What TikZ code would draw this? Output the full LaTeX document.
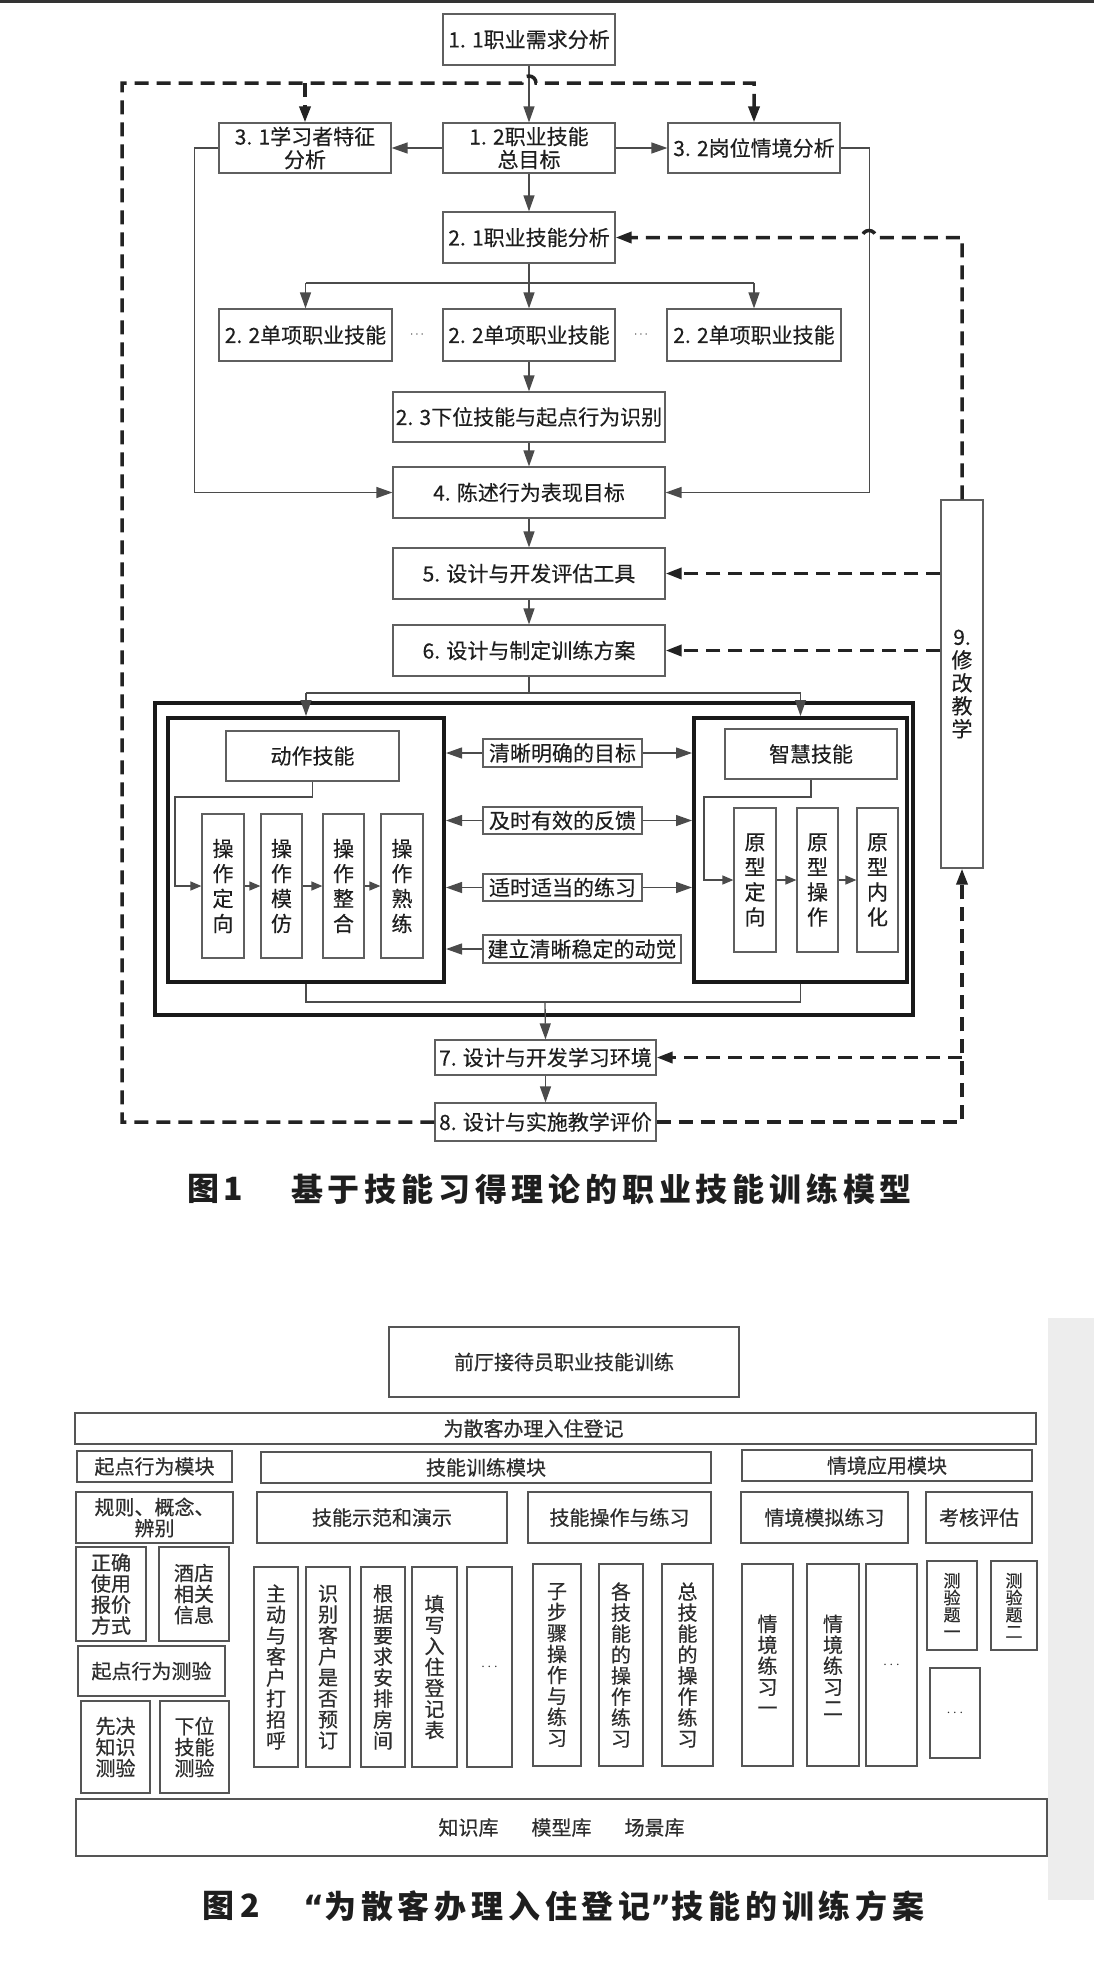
\documentclass[tikz,border=0pt]{standalone}
\usepackage{fontspec}
\setmainfont{Noto Sans CJK SC}
\newfontfamily\fonea[FakeBold=0.3]{Noto Sans CJK SC}
\newfontfamily\fontb[FakeBold=0.5]{Noto Sans CJK SC}
\newfontfamily\capfont[LetterSpace=15]{Noto Sans CJK SC}
\newfontfamily\qfont{DejaVu Sans}
\usetikzlibrary{arrows.meta}
\definecolor{boxc}{RGB}{95,95,95}
\definecolor{boxc2}{RGB}{85,85,85}
\definecolor{txtc}{RGB}{30,30,30}
\definecolor{txtc2}{RGB}{45,45,45}
\definecolor{linec}{RGB}{75,75,75}
\definecolor{dashc}{RGB}{35,35,35}
\definecolor{frc}{RGB}{25,25,25}
\definecolor{capc}{RGB}{30,30,30}
\newcommand\fsa{\fonea\fontsize{21}{23}\selectfont}
\newcommand\fsb{\fontb\fontsize{20}{21}\selectfont}
\newcommand\mybox[6][]{\node[bx,#1,minimum width={#4-#2},minimum height={#5-#3}] (#6) at ({(#2+#4)/2},{(#3+#5)/2})}
\tikzset{
  bx/.style={draw=boxc,line width=1.2pt,inner sep=0pt,text=txtc,font=\fsa,align=center},
  vt/.style={font=\fonea\fontsize{21}{25}\selectfont},
  bx2/.style={draw=boxc2,line width=1.4pt,text=txtc2,font=\fsb},
  vt2/.style={font=\fontb\fontsize{20}{21}\selectfont},
  frm/.style={draw=frc,line width=4pt},
  ln/.style={draw=linec,line width=1.3pt},
  dsh/.style={draw=dashc,line width=3.5pt,dash pattern=on 14pt off 8pt},
  arr/.tip={Triangle[length=16pt,width=11pt]},
  sarr/.tip={Triangle[length=11pt,width=9pt]},
  captx/.style={font=\capfont\fontsize{32}{34}\selectfont\bfseries,text=capc,inner sep=0pt}
}
\begin{document}
\begin{tikzpicture}[x=1pt,y=-1pt]
\useasboundingbox (0,0) rectangle (1094,1971);
\fill[white] (0,0) rectangle (1094,1971);
\fill[black!80] (0,0) rectangle (1094,3);
\fill[black!7] (1048,1318) rectangle (1094,1900);

% ---------------- Figure 1 ----------------
\mybox{443}{14}{615}{65}{a11} {1. 1职业需求分析};
\mybox{219}{123}{391}{173}{a31} {3. 1学习者特征\\分析};
\mybox{443}{123}{615}{173}{a12} {1. 2职业技能\\总目标};
\mybox{668}{123}{840}{173}{a32} {3. 2岗位情境分析};
\mybox{443}{212}{615}{263}{a21} {2. 1职业技能分析};
\mybox{219}{309}{392}{361}{a22l} {2. 2单项职业技能};
\mybox{443}{309}{615}{361}{a22m} {2. 2单项职业技能};
\mybox{667}{309}{841}{361}{a22r} {2. 2单项职业技能};
\node[font=\fontsize{13}{13}\selectfont,text=txtc,inner sep=0pt] (d1) at (417,335) {\(\cdots\)};
\node[font=\fontsize{13}{13}\selectfont,text=txtc,inner sep=0pt] (d2) at (641,335) {\(\cdots\)};
\mybox{393}{392}{665}{442}{a23} {2. 3下位技能与起点行为识别};
\mybox{393}{467}{665}{518}{a4} {4. 陈述行为表现目标};
\mybox{393}{548}{665}{599}{a5} {5. 设计与开发评估工具};
\mybox{393}{625}{665}{676}{a6} {6. 设计与制定训练方案};

\mybox[frm]{155}{703}{913}{1015}{outer} {};
\mybox[frm]{168}{718}{444}{982}{mot} {};
\mybox[frm]{694}{718}{907}{982}{int} {};

\mybox{226}{731}{399}{781}{ms} {动作技能};
\mybox{725}{729}{897}{779}{is} {智慧技能};
\mybox[vt]{202}{814}{244}{958}{o1} {操\\作\\定\\向};
\mybox[vt]{261}{814}{302}{958}{o2} {操\\作\\模\\仿};
\mybox[vt]{323}{814}{364}{958}{o3} {操\\作\\整\\合};
\mybox[vt]{381}{814}{423}{958}{o4} {操\\作\\熟\\练};
\mybox[vt]{734}{808}{776}{952}{p1} {原\\型\\定\\向};
\mybox[vt]{797}{808}{838}{952}{p2} {原\\型\\操\\作};
\mybox[vt]{857}{808}{898}{952}{p3} {原\\型\\内\\化};

\mybox{483}{739}{642}{767}{m1} {清晰明确的目标};
\mybox{483}{807}{642}{834}{m2} {及时有效的反馈};
\mybox{483}{874}{642}{901}{m3} {适时适当的练习};
\mybox{483}{935}{681}{963}{m4} {建立清晰稳定的动觉};

\mybox{435}{1040}{656}{1075}{a7} {7. 设计与开发学习环境};
\mybox{435}{1103}{656}{1141}{a8} {8. 设计与实施教学评价};
\mybox[font=\fonea\fontsize{21}{23}\selectfont]{941}{500}{983}{868}{a9} {9.\\修\\改\\教\\学};

% solid connectors
\draw[ln,-{arr}] (a11.south) -- (a12.north);
\draw[ln,-{arr}] (a12.west) -- (a31.east);
\draw[ln,-{arr}] (a12.east) -- (a32.west);
\draw[ln,-{arr}] (a12.south) -- (a21.north);
\draw[ln,-{arr}] (a31.west) -- ++(-24,0) |- (a4.west);
\draw[ln,-{arr}] (a32.east) -- ++(29,0) |- (a4.east);
\coordinate (b1) at (529,283);
\draw[ln] (a21.south) -- (b1);
\draw[ln] (a22l.north |- b1) -- (a22r.north |- b1);
\draw[ln,-{arr}] (a22l.north |- b1) -- (a22l.north);
\draw[ln,-{arr}] (a22m.north |- b1) -- (a22m.north);
\draw[ln,-{arr}] (a22r.north |- b1) -- (a22r.north);
\draw[ln,-{arr}] (a22m.south) -- (a23.north);
\draw[ln,-{arr}] (a23.south) -- (a4.north);
\draw[ln,-{arr}] (a4.south) -- (a5.north);
\draw[ln,-{arr}] (a5.south) -- (a6.north);
\coordinate (b2) at (529,693);
\draw[ln] (a6.south) -- (b2);
\draw[ln] (mot.north |- b2) -- (int.north |- b2);
\draw[ln,-{arr}] (mot.north |- b2) -- (mot.north);
\draw[ln,-{arr}] (int.north |- b2) -- (int.north);

\draw[ln,-{sarr}] (ms.south) |- (175,797) |- (o1.west);
\draw[ln,-{sarr}] (o1.east) -- (o2.west);
\draw[ln,-{sarr}] (o2.east) -- (o3.west);
\draw[ln,-{sarr}] (o3.east) -- (o4.west);
\draw[ln,-{sarr}] (is.south) |- (704,797) |- (p1.west);
\draw[ln,-{sarr}] (p1.east) -- (p2.west);
\draw[ln,-{sarr}] (p2.east) -- (p3.west);

\draw[ln,-{arr}] (m1.west) -- (m1.west -| mot.east);
\draw[ln,-{arr}] (m1.east) -- (m1.east -| int.west);
\draw[ln,-{arr}] (m2.west) -- (m2.west -| mot.east);
\draw[ln,-{arr}] (m2.east) -- (m2.east -| int.west);
\draw[ln,-{arr}] (m3.west) -- (m3.west -| mot.east);
\draw[ln,-{arr}] (m3.east) -- (m3.east -| int.west);
\draw[ln,-{arr}] (m4.west) -- (m4.west -| mot.east);

\coordinate (mj) at (545,1002);
\draw[ln] (mot.south) |- (mj) -| (int.south);
\draw[ln,-{arr}] (mj) -- (a7.north);
\draw[ln,-{arr}] (a7.south) -- (a8.north);

% dashed feedback loops
\coordinate (bl) at (122,1122);
\coordinate (tl) at (122,83);
\coordinate (h1) at (522,83);
\coordinate (hx) at (876,0);
\draw[dsh,-{arr}] (a8.west) -- (bl) -- (tl) -- (h1) arc[start angle=180,end angle=360,radius=7] -- (a32.north |- tl) -- (a32.north);
\draw[dsh,-{arr}] (a31.north |- tl) -- (a31.north);
\draw[dsh,-{arr}] (a8.east) -| (a9.south);
\draw[dsh,-{arr}] (a9.south |- a7.east) -- (a7.east);
\draw[dsh,-{arr}] (a9.north) -- (a9.north |- a21.east) -- (a21.east -| hx) arc[start angle=0,end angle=-180,radius=7] -- (a21.east);
\draw[dsh,-{arr}] (a9.west |- a5.east) -- (a5.east);
\draw[dsh,-{arr}] (a9.west |- a6.east) -- (a6.east);

\node[captx,anchor=west] (c1a) at (187,1189) {图1};
\node[captx,anchor=west] (c1b) at (291,1189) {基于技能习得理论的职业技能训练模型};

% ---------------- Figure 2 ----------------
\mybox[bx2]{389}{1327}{739}{1397}{f0} {前厅接待员职业技能训练};
\mybox[bx2]{75}{1413}{1036}{1444}{f1} {\hspace*{-44pt}为散客办理入住登记};
\mybox[bx2]{77}{1451}{232}{1482}{f2} {起点行为模块};
\mybox[bx2]{261}{1452}{711}{1483}{f3} {技能训练模块};
\mybox[bx2]{742}{1450}{1032}{1481}{f4} {情境应用模块};
\mybox[bx2]{76}{1492}{233}{1543}{f5} {规则、概念、\\辨别};
\mybox[bx2]{257}{1492}{507}{1543}{f6} {技能示范和演示};
\mybox[bx2]{528}{1492}{711}{1543}{f7} {技能操作与练习};
\mybox[bx2]{741}{1492}{908}{1543}{f8} {情境模拟练习};
\mybox[bx2]{926}{1492}{1032}{1543}{f9} {考核评估};
\mybox[bx2]{76}{1547}{146}{1641}{g1} {正确\\使用\\报价\\方式};
\mybox[bx2]{159}{1547}{229}{1641}{g2} {酒店\\相关\\信息};
\mybox[bx2]{78}{1646}{225}{1696}{g3} {起点行为测验};
\mybox[bx2]{81}{1701}{150}{1793}{g4} {先决\\知识\\测验};
\mybox[bx2]{160}{1701}{229}{1793}{g5} {下位\\技能\\测验};

\mybox[bx2,vt2]{254}{1567}{298}{1767}{h1} {主\\动\\与\\客\\户\\打\\招\\呼};
\mybox[bx2,vt2]{306}{1567}{350}{1767}{h2} {识\\别\\客\\户\\是\\否\\预\\订};
\mybox[bx2,vt2]{361}{1567}{405}{1767}{h3} {根\\据\\要\\求\\安\\排\\房\\间};
\mybox[bx2,vt2]{412}{1567}{457}{1767}{h4} {填\\写\\入\\住\\登\\记\\表};
\mybox[bx2,font=\fontsize{14}{14}\selectfont]{467}{1567}{512}{1767}{h5} {\(\cdots\)};
\mybox[bx2,vt2]{533}{1564}{581}{1766}{k1} {子\\步\\骤\\操\\作\\与\\练\\习};
\mybox[bx2,vt2]{599}{1564}{643}{1766}{k2} {各\\技\\能\\的\\操\\作\\练\\习};
\mybox[bx2,vt2]{662}{1564}{713}{1766}{k3} {总\\技\\能\\的\\操\\作\\练\\习};
\mybox[bx2,vt2]{742}{1564}{793}{1766}{k4} {情\\境\\练\\习\\一};
\mybox[bx2,vt2]{807}{1564}{859}{1766}{k5} {情\\境\\练\\习\\二};
\mybox[bx2,font=\fontsize{14}{14}\selectfont]{866}{1564}{917}{1766}{k6} {\(\cdots\)};
\mybox[bx2,font=\fontb\fontsize{17}{17}\selectfont]{927}{1561}{977}{1650}{t1} {测\\验\\题\\一};
\mybox[bx2,font=\fontb\fontsize{17}{17}\selectfont]{991}{1561}{1037}{1650}{t2} {测\\验\\题\\二};
\mybox[bx2,font=\fontsize{14}{14}\selectfont]{930}{1668}{980}{1758}{t3} {\(\cdots\)};

\mybox[bx2]{76}{1799}{1047}{1856}{kb} {知识库\hspace{33pt}模型库\hspace{33pt}场景库};

\node[captx,anchor=west] (c2a) at (202,1906) {图\hspace{6pt}2};
\node[captx,anchor=west] (c2b) at (303,1906) {{\qfont\bfseries “}为散客办理入住登记{\qfont\bfseries ”}技能的训练方案};
\end{tikzpicture}
\end{document}
